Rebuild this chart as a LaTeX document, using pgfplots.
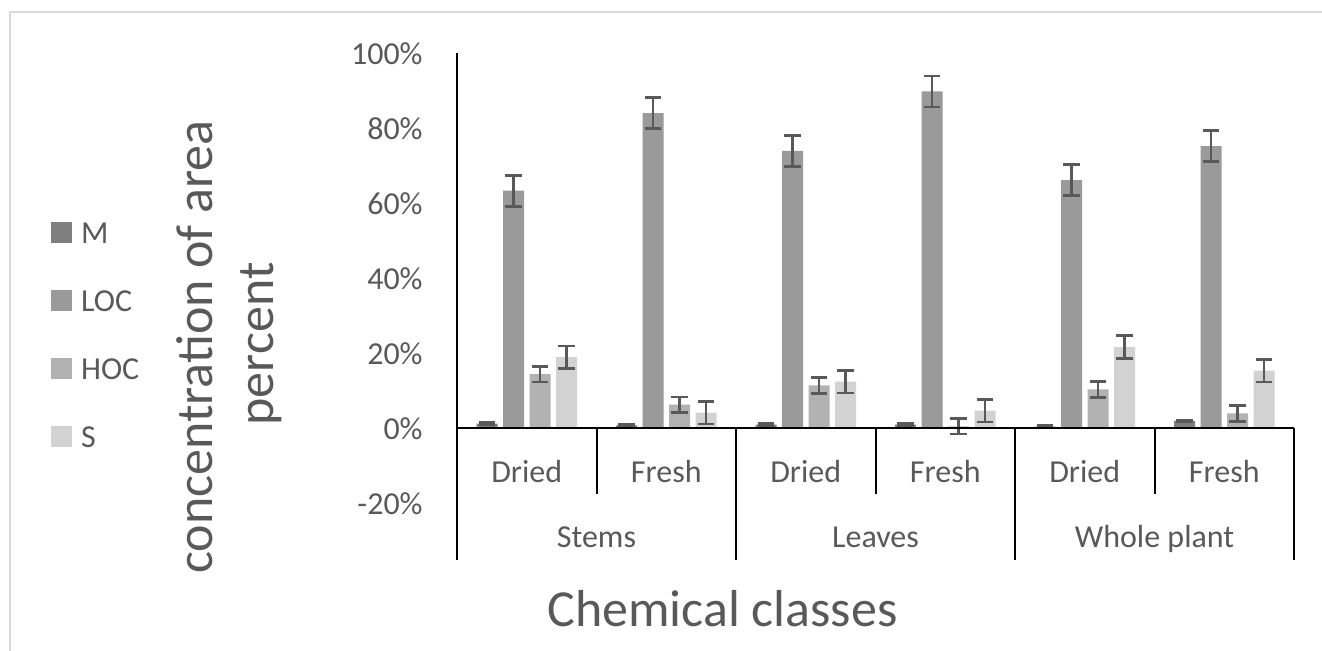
\documentclass[border=0pt]{standalone}
\usepackage{fontspec}
\setmainfont{Carlito}
\usepackage{pgfplots}
\pgfplotsset{compat=1.18}
\definecolor{cM}{HTML}{7F7F7F}
\definecolor{cLOC}{HTML}{9A9A9A}
\definecolor{cHOC}{HTML}{B2B2B2}
\definecolor{cS}{HTML}{D2D2D2}
\definecolor{txt}{HTML}{595959}
\definecolor{errc}{HTML}{595959}
\definecolor{framec}{HTML}{D9D9D9}
\begin{document}
\begin{tikzpicture}
\draw[framec, line width=1pt] (5pt,-30pt) rectangle (700pt,319.5pt);
\begin{axis}[
  at={(228.5pt,73.75pt)}, anchor=south west,
  scale only axis, width=418.5pt, height=225pt,
  xmin=-0.5, xmax=5.5, ymin=-20, ymax=100,
  ybar=2.75pt, bar width=10.5pt,
  axis y line*=left, axis x line=none,
  y axis line style={line width=1pt, black, -},
  ytick={-20,0,20,40,60,80,100},
  yticklabels={-20\%,0\%,20\%,40\%,60\%,80\%,100\%},
  major tick length=0pt,
  yticklabel style={font=\fontsize{16}{19}\selectfont, text=txt, inner sep=0pt, anchor=east, xshift=-17pt},
  clip=false,
  legend cell align=left,
  legend image code/.code={\fill[#1] (0pt,0pt) rectangle (10.5pt,10.5pt);},
  legend style={draw=none, fill=none, inner sep=0pt, outer sep=0pt,
    at={(rel axis cs:-0.48543,0.65378)}, anchor=north west,
    font=\fontsize{16}{19}\selectfont, text=txt, row sep=0pt, column sep=4.7pt,
    nodes={inner sep=0pt, text height=17pt, text depth=17pt}},
  error bars/y dir=both, error bars/y explicit,
  error bars/error bar style={line width=1.3pt, errc},
  error bars/error mark options={rotate=90, line width=1.3pt, errc, mark size=4.2pt},
]
\addplot[fill=cM, draw=none] coordinates {
  (0,1.3) +- (0,0.3) (1,0.8) +- (0,0.3) (2,1.0) +- (0,0.3)
  (3,1.0) +- (0,0.3) (4,0.5) +- (0,0.3) (5,2.0) +- (0,0.3)};
\addlegendentry{M}
\addplot[fill=cLOC, draw=none] coordinates {
  (0,63.4) +- (0,4.13) (1,84.1) +- (0,4.13) (2,74.0) +- (0,4.13)
  (3,89.9) +- (0,4.13) (4,66.2) +- (0,4.13) (5,75.3) +- (0,4.13)};
\addlegendentry{LOC}
\addplot[fill=cHOC, draw=none] coordinates {
  (0,14.5) +- (0,2.09) (1,6.35) +- (0,2.09) (2,11.5) +- (0,2.09)
  (3,0.57) +- (0,2.09) (4,10.4) +- (0,2.09) (5,4.0) +- (0,2.09)};
\addlegendentry{HOC}
\addplot[fill=cS, draw=none] coordinates {
  (0,19.0) +- (0,3.02) (1,4.2) +- (0,3.02) (2,12.5) +- (0,3.02)
  (3,4.75) +- (0,3.02) (4,21.7) +- (0,3.02) (5,15.4) +- (0,3.02)};
\addlegendentry{S}
\draw[black, line width=1pt] (axis cs:-0.5,0) -- (axis cs:5.5,0);
\draw[black, line width=1pt] (axis cs:0.5,0) -- ++(0pt,-33pt);
\draw[black, line width=1pt] (axis cs:2.5,0) -- ++(0pt,-33pt);
\draw[black, line width=1pt] (axis cs:4.5,0) -- ++(0pt,-33pt);
\draw[black, line width=1pt] (axis cs:-0.5,0) -- ++(0pt,-65.75pt);
\draw[black, line width=1pt] (axis cs:1.5,0) -- ++(0pt,-65.75pt);
\draw[black, line width=1pt] (axis cs:3.5,0) -- ++(0pt,-65.75pt);
\draw[black, line width=1pt] (axis cs:5.5,0) -- ++(0pt,-65.75pt);
\node[anchor=base, font=\fontsize{16}{19}\selectfont, text=txt, yshift=-27.25pt] at (axis cs:0,0) {Dried};
\node[anchor=base, font=\fontsize{16}{19}\selectfont, text=txt, yshift=-27.25pt] at (axis cs:1,0) {Fresh};
\node[anchor=base, font=\fontsize{16}{19}\selectfont, text=txt, yshift=-27.25pt] at (axis cs:2,0) {Dried};
\node[anchor=base, font=\fontsize{16}{19}\selectfont, text=txt, yshift=-27.25pt] at (axis cs:3,0) {Fresh};
\node[anchor=base, font=\fontsize{16}{19}\selectfont, text=txt, yshift=-27.25pt] at (axis cs:4,0) {Dried};
\node[anchor=base, font=\fontsize{16}{19}\selectfont, text=txt, yshift=-27.25pt] at (axis cs:5,0) {Fresh};
\node[anchor=base, font=\fontsize{16}{19}\selectfont, text=txt, yshift=-59.75pt] at (axis cs:0.5,0) {Stems};
\node[anchor=base, font=\fontsize{16}{19}\selectfont, text=txt, yshift=-59.75pt] at (axis cs:2.5,0) {Leaves};
\node[anchor=base, font=\fontsize{16}{19}\selectfont, text=txt, yshift=-59.75pt] at (axis cs:4.5,0) {Whole plant};
\end{axis}
\node[anchor=base, font=\fontsize{26}{31}\selectfont, text=txt] at (361.25pt,12pt) {Chemical classes};
\node[rotate=90, anchor=base, font=\fontsize{26}{31}\selectfont, text=txt] at (106pt,152pt) {concentration of area};
\node[rotate=90, anchor=base, font=\fontsize{26}{31}\selectfont, text=txt] at (136.5pt,153.5pt) {percent};
\pgfresetboundingbox
\path[use as bounding box] (0pt,0pt) rectangle (661pt,325.5pt);
\end{tikzpicture}
\end{document}
